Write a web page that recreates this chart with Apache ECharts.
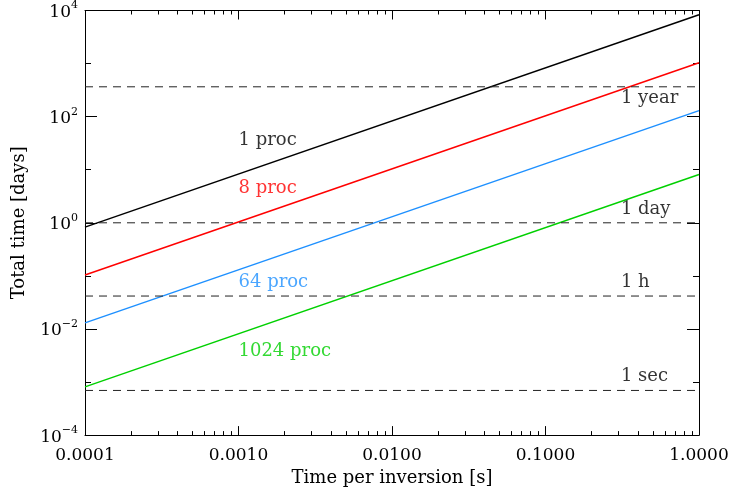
<!DOCTYPE html>
<html>
<head>
<meta charset="utf-8">
<script src="https://cdn.jsdelivr.net/npm/echarts@6/dist/echarts.min.js"></script>
<style>
  html, body { margin: 0; padding: 0; background: #fff; }
  #chart { width: 732px; height: 492px; }
</style>
</head>
<body>
<div id="chart"></div>
<script>
  // values
  let xEnds = [0.0001, 1]
  let procNames = ['1 proc', '8 proc', '64 proc', '1024 proc']
  let procColors = ['#000000', '#ff0000', '#1e90ff', '#00d000']
  let procStart = [0.83, 0.104, 0.013, 0.00081]
  let procEnd = [8300, 1040, 130, 8.1]
  let procLabelX = [0.001, 0.001, 0.001, 0.001]
  let procLabelY = [36, 4.5, 0.075, 0.0038]

  let refNames = ['1 year', '1 day', '1 h', '1 sec']
  let refValues = [365, 1, 0.0417, 0.000694]
  let refLabelX = [0.31, 0.31, 0.31, 0.31]
  let refLabelY = [222, 1.8, 0.075, 0.0013]

  let xMajor = [0.0001, 0.001, 0.01, 0.1, 1]
  let xMinor = [2, 3, 4, 5, 6, 7, 8, 9]
  let yMajor = [1e-4, 1e-2, 1, 1e2, 1e4]
  let yMinor = [1e-3, 1e-1, 10, 1e3]

  let font = 'DejaVu Serif'
  let chart = echarts.init(document.getElementById('chart'))

  let xMinorVals = []
  xMajor.slice(0, -1).forEach(d => {
    xMinor.forEach(m => xMinorVals.push(+(d * m).toPrecision(3)))
  })

  function supLabel(v) {
    let e = Math.round(Math.log10(v))
    return '{b|10}{s|' + (e < 0 ? '\u2212' + (-e) : e) + '}'
  }

  function xAx(pos, ticks, len, main) {
    return {
      type: 'log', position: pos, min: 0.0001, max: 1,
      axisLine: { show: main, lineStyle: { color: '#000', width: 1 } },
      axisTick: { show: true, inside: true, length: len, customValues: ticks, lineStyle: { color: '#000' } },
      axisLabel: main && pos === 'bottom' ? {
        show: true, customValues: xMajor, margin: 12, color: '#000', fontFamily: font, fontSize: 17,
        formatter: v => v.toFixed(4)
      } : { show: false },
      splitLine: { show: false },
      name: main && pos === 'bottom' ? 'Time per inversion [s]' : '',
      nameLocation: 'middle', nameGap: 33,
      nameTextStyle: { color: '#000', fontFamily: font, fontSize: 18 }
    }
  }

  function yAx(pos, ticks, len, main) {
    return {
      type: 'log', position: pos, min: 1e-4, max: 1e4,
      axisLine: { show: main, lineStyle: { color: '#000', width: 1 } },
      axisTick: { show: true, inside: true, length: len, customValues: ticks, lineStyle: { color: '#000' } },
      axisLabel: main && pos === 'left' ? {
        show: true, customValues: yMajor, margin: 7, color: '#000', fontFamily: font,
        formatter: supLabel,
        rich: {
          b: { fontSize: 17, fontFamily: font, color: '#000', padding: [4, 0, 0, 0] },
          s: { fontSize: 11, fontFamily: font, color: '#000', padding: [0, 0, 10, 0] }
        }
      } : { show: false },
      splitLine: { show: false },
      name: main && pos === 'left' ? 'Total time [days]' : '',
      nameLocation: 'middle', nameGap: 57,
      nameTextStyle: { color: '#000', fontFamily: font, fontSize: 18 }
    }
  }

  let series = []
  procNames.forEach((n, i) => {
    series.push({
      name: n, type: 'line', symbol: 'none', silent: true,
      lineStyle: { color: procColors[i], width: 1.5 },
      data: [[xEnds[0], procStart[i]], [xEnds[1], procEnd[i]]]
    })
    series.push({
      type: 'scatter', symbolSize: 0, silent: true,
      label: {
        show: true, position: 'right', distance: 0, formatter: n,
        color: procColors[i], fontFamily: font, fontSize: 18
      },
      data: [[procLabelX[i], procLabelY[i]]]
    })
  })
  refNames.forEach((n, i) => {
    series.push({
      type: 'line', symbol: 'none', silent: true,
      lineStyle: { color: '#222', width: 1, type: [8, 6] },
      data: [[xEnds[0], refValues[i]], [xEnds[1], refValues[i]]]
    })
    series.push({
      type: 'scatter', symbolSize: 0, silent: true,
      label: {
        show: true, position: 'right', distance: 0, formatter: n,
        color: '#000', fontFamily: font, fontSize: 18
      },
      data: [[refLabelX[i], refLabelY[i]]]
    })
  })

  let option = {
    animation: false,
    backgroundColor: '#fff',
    grid: { left: 85, right: 33, top: 10, bottom: 56, containLabel: false },
    xAxis: [
      xAx('bottom', xMajor, 9, true),
      xAx('bottom', xMinorVals, 4, false),
      xAx('top', xMajor, 9, true),
      xAx('top', xMinorVals, 4, false)
    ],
    yAxis: [
      yAx('left', yMajor, 12, true),
      yAx('left', yMinor, 6, false),
      yAx('right', yMajor, 12, true),
      yAx('right', yMinor, 6, false)
    ],
    series: series
  }
  chart.setOption(option)
</script>
</body>
</html>
